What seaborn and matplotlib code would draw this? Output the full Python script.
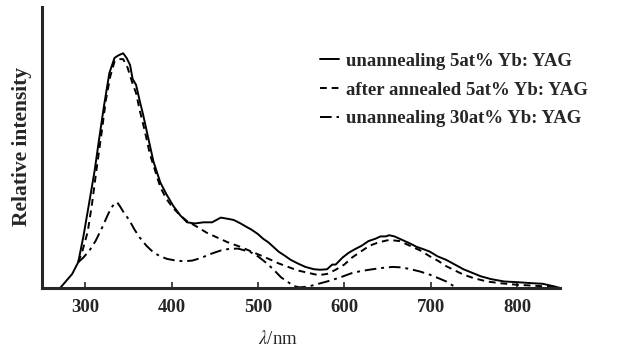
import matplotlib
matplotlib.use("Agg")
import matplotlib.pyplot as plt
import seaborn as sns
import pandas as pd

# (wavelength nm, relative intensity; solid peak = 1.0)
wl_unann5 = [250, 271, 278, 285, 292, 298, 305, 311, 316, 322, 328, 334, 338, 344, 348, 352,
             355, 359, 363, 367, 373, 379, 387, 394, 402, 410, 418, 427, 437, 447, 457,
             465, 472, 480, 487, 492, 500, 506, 512, 518, 524, 531, 538, 546, 555, 565,
             572, 580, 586, 590, 598, 605, 612, 620, 628, 636, 642, 648, 652, 658, 664,
             670, 676, 684, 692, 699, 708, 718, 728, 738, 748, 758, 770, 785, 800, 816,
             830, 843, 850]
int_unann5 = [0.0, 0.0, 0.03, 0.06, 0.11, 0.22, 0.37, 0.50, 0.63, 0.78, 0.915, 0.98, 0.99, 1.0,
              0.98, 0.95, 0.89, 0.865, 0.80, 0.74, 0.64, 0.54, 0.45, 0.40, 0.35, 0.31, 0.28,
              0.275, 0.28, 0.28, 0.30, 0.295, 0.29, 0.275, 0.26, 0.25, 0.23, 0.21, 0.195,
              0.175, 0.155, 0.138, 0.12, 0.105, 0.09, 0.08, 0.078, 0.08, 0.10, 0.10, 0.13,
              0.15, 0.165, 0.18, 0.20, 0.21, 0.22, 0.22, 0.225, 0.22, 0.21, 0.20, 0.19,
              0.175, 0.165, 0.155, 0.135, 0.12, 0.10, 0.08, 0.065, 0.05, 0.038, 0.028, 0.025,
              0.021, 0.018, 0.007, 0.0]

wl_ann5 = [292, 297, 303, 308, 313, 319, 324, 329, 334, 339, 344, 349, 355, 359, 363, 369,
           375, 381, 387, 394, 402, 410, 418, 430, 441, 453, 465, 480, 496, 512, 524,
           535, 546, 558, 570, 580, 590, 600, 609, 619, 629, 640, 652, 664, 676, 688,
           699, 709, 718, 728, 738, 750, 765, 782, 800, 820, 843, 850]
int_ann5 = [0.11, 0.16, 0.24, 0.36, 0.50, 0.66, 0.80, 0.90, 0.965, 0.975, 0.975, 0.94, 0.87,
            0.83, 0.76, 0.67, 0.57, 0.50, 0.43, 0.38, 0.34, 0.31, 0.285, 0.26, 0.235, 0.215,
            0.195, 0.175, 0.15, 0.125, 0.105, 0.09, 0.075, 0.065, 0.055, 0.06, 0.078,
            0.10, 0.13, 0.155, 0.18, 0.195, 0.205, 0.20, 0.18, 0.16, 0.135, 0.115, 0.093,
            0.075, 0.057, 0.042, 0.028, 0.02, 0.014, 0.01, 0.004, 0.0]

wl_unann30 = [292, 298, 305, 312, 320, 326, 330, 334, 337, 340, 345, 351, 357, 363, 371, 379,
              387, 395, 405, 414, 424, 434, 445, 457, 467, 477, 485, 492, 500, 506, 512,
              519, 527, 535, 542, 548, 555, 562, 572, 582, 595, 609, 619, 629, 642, 656,
              666, 676, 688, 699, 709, 718, 725, 730, 760, 800, 850]
int_unann30 = [0.11, 0.13, 0.16, 0.20, 0.26, 0.31, 0.34, 0.36, 0.365, 0.35, 0.32, 0.29, 0.25,
               0.216, 0.18, 0.152, 0.135, 0.124, 0.117, 0.114, 0.117, 0.128, 0.145, 0.16,
               0.167, 0.168, 0.16, 0.152, 0.135, 0.118, 0.10, 0.075, 0.045, 0.025, 0.008,
               0.003, 0.005, 0.01, 0.02, 0.03, 0.045, 0.064, 0.072, 0.078, 0.085, 0.09, 0.088,
               0.081, 0.07, 0.057, 0.042, 0.028, 0.012, 0.0, 0.0, 0.0, 0.0]

labels = ["unannealing 5at% Yb: YAG",
          "after annealed 5at% Yb: YAG",
          "unannealing 30at% Yb: YAG"]
x_ticks = [300, 400, 500, 600, 700, 800]

sns.set_style("ticks")
plt.rcParams['font.family'] = ['Liberation Serif', 'DejaVu Serif']
plt.rcParams['mathtext.fontset'] = 'stix'

fig = plt.figure(figsize=(6.26, 3.5), dpi=100)
ax = fig.add_axes([0.067, 0.177, 0.828, 0.803])

series = [(wl_unann5, int_unann5, '-'),
          (wl_ann5, int_ann5, (0, (3.5, 2.5))),
          (wl_unann30, int_unann30, (0, (6, 2.5, 1.5, 2.5)))]
for (wl, inten, ls), lab in zip(series, labels):
    df = pd.DataFrame({'wl': wl, 'I': inten})
    sns.lineplot(data=df, x='wl', y='I', ax=ax, color='black', lw=1.4,
                 linestyle=ls, label=lab, sort=False, estimator=None)

ax.set_xlim(250, 850)
ax.set_ylim(0, 1.197)
ax.set_xticks(x_ticks)
ax.set_yticks([])
ax.tick_params(axis='x', direction='in', length=4, width=1.2, labelsize=13.5, pad=8)
for t in ax.get_xticklabels():
    t.set_fontweight('bold')
sns.despine(ax=ax)
for s in ['left', 'bottom']:
    ax.spines[s].set_linewidth(2.2)

ax.set_xlabel(r'$\lambda$/nm', fontsize=13.5, va='center')
ax.xaxis.set_label_coords(0.456, -0.18)
ax.set_ylabel('Relative intensity', fontsize=15.5, fontweight='bold')
ax.yaxis.set_label_coords(-0.02, 0.505)

leg = ax.legend(loc='upper left', bbox_to_anchor=(0.505, 0.86), bbox_transform=fig.transFigure,
                frameon=False, handlelength=1.0, handletextpad=0.4, labelspacing=0.62,
                borderpad=0.2, borderaxespad=0,
                prop={'size': 13.5, 'weight': 'bold'})
for t in leg.get_texts():
    t.set_fontweight('bold')

fig.savefig('out.png', dpi=100)
